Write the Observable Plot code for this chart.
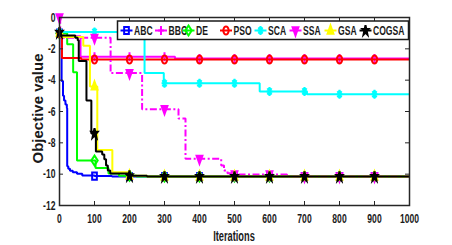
<!DOCTYPE html>
<html><head><meta charset="utf-8">
<script src="https://cdn.jsdelivr.net/npm/d3@7"></script>
<script src="https://cdn.jsdelivr.net/npm/@observablehq/plot@0.6"></script>
<style>
html,body{margin:0;padding:0;background:#fff;}
#chart{position:relative;width:452px;height:245px;}
</style></head><body><div id="chart"></div>
<script>
// ---------- data ----------
const seriesNames = ["ABC","BBO","DE","PSO","SCA","SSA","GSA","COGSA"];
const seriesColors = ["#0000ff","#ff00ff","#00ff00","#ff0000","#00ffff","#ff00ff","#ffff00","#000000"];
const seriesSymbols = ["square","plus","diamond","circle","asterisk","triangleDown","triangleUp","star"];
const seriesDash = [null,null,null,null,null,"7,2.5,2,2.5",null,null];
const iterationTicks = [0,100,200,300,400,500,600,700,800,900,1000];
const valueTicks = [-12,-10,-8,-6,-4,-2,0];
const markerIterations = [0,100,200,300,400,500,600,700,800,900];

// step change points: [iteration, value from this iteration on]
const abcCurve = [[0,-1.0],[5,-1.2],[6,-4.05],[10,-5.0],[13,-5.3],[17,-5.55],[21,-5.8],[22,-9.5],[25,-9.65],[30,-9.78],[38,-9.88],[50,-9.98],[65,-10.08],[100,-10.12],[150,-10.15],[1000,-10.15]];
const bboCurve = [[0,-1.0],[3,-1.2],[60,-2.5],[330,-2.62],[1000,-2.62]];
const deCurve = [[0,-1.0],[22,-1.7],[39,-3.5],[50,-9.13],[103,-9.6],[140,-9.95],[170,-10.1],[220,-10.15],[1000,-10.15]];
const psoCurve = [[0,-1.0],[7,-2.58],[62,-2.68],[1000,-2.68]];
const scaCurve = [[0,-0.92],[243,-3.55],[298,-4.2],[572,-4.72],[707,-4.9],[1000,-4.9]];
const ssaCurve = [[0,0],[2,-1.3],[146,-3.55],[236,-5.85],[340,-6.45],[360,-9.02],[462,-9.45],[470,-9.77],[480,-9.94],[500,-10.02],[650,-10.15],[1000,-10.15]];
const gsaCurve = [[0,-1.0],[8,-1.25],[68,-1.8],[87,-4.4],[108,-8.45],[151,-9.87],[200,-10.1],[250,-10.15],[1000,-10.15]];
const cogsaCurve = [[0,-0.95],[3,-1.15],[45,-1.3],[52,-1.45],[55,-2.78],[77,-5.3],[91,-7.4],[104,-8.55],[122,-8.75],[128,-9.05],[133,-9.45],[138,-9.77],[145,-9.95],[200,-10.1],[250,-10.15],[1000,-10.15]];
const seriesCurves = [abcCurve,bboCurve,deCurve,psoCurve,scaCurve,ssaCurve,gsaCurve,cogsaCurve];

// ---------- helpers ----------
const SX = 0.65;   // horizontal squeeze of markers (as in the reference)
const TSX = 0.66;  // horizontal squeeze of text
function valueAt(points, it) { let v = points[0][1]; for (const [x,y] of points) if (x <= it) v = y; return v; }
function makeSymbol(kind) {
  return { draw(ctx, size) {
    const r = Math.sqrt(size / Math.PI);
    const poly = pts => { pts.forEach(([x,y],i) => i ? ctx.lineTo(x*SX*r, y*r) : ctx.moveTo(x*SX*r, y*r)); ctx.closePath(); };
    const seg = (a,b) => { ctx.moveTo(a[0]*SX*r, a[1]*r); ctx.lineTo(b[0]*SX*r, b[1]*r); };
    switch (kind) {
      case "square": poly([[-.8,-.8],[.8,-.8],[.8,.8],[-.8,.8]]); break;
      case "diamond": poly([[0,-1.1],[1.1,0],[0,1.1],[-1.1,0]]); break;
      case "circle": poly(d3.range(20).map(k => [0.9*Math.cos(k*Math.PI/10), 0.9*Math.sin(k*Math.PI/10)])); break;
      case "triangleUp": poly([[0,-1.1],[1,.7],[-1,.7]]); break;
      case "triangleDown": poly([[0,1.1],[1,-.7],[-1,-.7]]); break;
      case "star": poly(d3.range(10).map(k => { const a = -Math.PI/2 + k*Math.PI/5, rr = k%2 ? 0.45 : 1.15; return [rr*Math.cos(a), rr*Math.sin(a)]; })); break;
      case "asterisk": seg([0,-1],[0,1]); seg([-1,0],[1,0]); seg([-.7,-.7],[.7,.7]); seg([-.7,.7],[.7,-.7]); break;
      case "plus": seg([0,-1],[0,1]); seg([-1,0],[1,0]); break;
    }
  }};
}
function markerFill(kind, color) {
  if (kind === "star" || kind === "triangleUp" || kind === "triangleDown") return color;
  return "none";
}

// ---------- chart ----------
const marks = [];
seriesNames.forEach((name, i) => {
  const color = seriesColors[i], kind = seriesSymbols[i];
  marks.push(Plot.line(seriesCurves[i], {x: d => d[0], y: d => d[1], curve: "step-after",
    stroke: color, strokeWidth: 2, strokeDasharray: seriesDash[i] || undefined, strokeLinejoin: "miter", strokeLinecap: "butt"}));
  marks.push(Plot.dot(markerIterations.map(it => ({it, v: valueAt(seriesCurves[i], it)})),
    {x: "it", y: "v", symbol: makeSymbol(kind), r: 4.5, stroke: color, strokeWidth: 2, fill: markerFill(kind, color)}));
});
marks.push(Plot.tickX(iterationTicks, {x: d => d, insetTop: 184, stroke: "#262626"}));
marks.push(Plot.tickX(iterationTicks, {x: d => d, insetBottom: 184, stroke: "#262626"}));
marks.push(Plot.tickY(valueTicks, {y: d => d, insetRight: 346, stroke: "#262626"}));
marks.push(Plot.tickY(valueTicks, {y: d => d, insetLeft: 346, stroke: "#262626"}));
marks.push(Plot.axisX(iterationTicks, {tickSize: 0, tickPadding: 8, label: null, tickFormat: d => String(d)}));
marks.push(Plot.axisY(valueTicks, {tickSize: 0, tickPadding: 4, label: null, tickFormat: d => String(d)}));
marks.push(Plot.frame({stroke: "#262626", strokeWidth: 1.5}));

const chart = Plot.plot({
  width: 452, height: 245,
  marginLeft: 59, marginRight: 43, marginTop: 17, marginBottom: 40,
  x: {domain: [0, 1000]},
  y: {domain: [-12, 0]},
  style: {fontFamily: "'Liberation Sans', Arial, sans-serif", fontWeight: "bold", fontSize: "13px", color: "#1a1a1a", background: "white"},
  marks
});
document.getElementById("chart").appendChild(chart);

// squeeze tick-label text horizontally
chart.querySelectorAll('g[aria-label$="tick label"] text').forEach(t => {
  t.setAttribute("transform", (t.getAttribute("transform") || "") + ` scale(${TSX},1)`);
});

const svg = d3.select(chart);
// axis titles
svg.append("text").attr("transform", `translate(234,241) scale(${TSX},1)`)
  .attr("text-anchor", "middle").attr("font-size", 14).attr("font-weight", "bold").attr("fill", "#1a1a1a").text("Iterations");
svg.append("text").attr("transform", "translate(43,108.5) rotate(-90)")
  .attr("text-anchor", "middle").attr("font-size", 15).attr("font-weight", "bold").attr("fill", "#1a1a1a").text("Objective value");

// legend
const legendTextX = [134,168.5,196,233.5,268,303,338,373];
const lg = svg.append("g").attr("aria-label", "legend");
lg.append("rect").attr("x", 117.5).attr("y", 21).attr("width", 291).attr("height", 18.5)
  .attr("fill", "white").attr("stroke", "#1a1a1a").attr("stroke-width", 1.5);
seriesNames.forEach((name, i) => {
  const tx = legendTextX[i], lx0 = tx - 13.5, lx1 = tx - 1.5, cy = 30.5, cx = (lx0 + lx1) / 2;
  lg.append("line").attr("x1", lx0).attr("x2", lx1).attr("y1", cy).attr("y2", cy)
    .attr("stroke", seriesColors[i]).attr("stroke-width", 2);
  const p = d3.path(); makeSymbol(seriesSymbols[i]).draw(p, Math.PI * 4.5 * 4.5);
  lg.append("path").attr("d", p.toString()).attr("transform", `translate(${cx},${cy})`)
    .attr("stroke", seriesColors[i]).attr("stroke-width", 2).attr("fill", markerFill(seriesSymbols[i], seriesColors[i]));
  lg.append("text").attr("transform", `translate(${tx},${cy}) scale(${TSX},1)`).attr("dy", "0.36em")
    .attr("text-anchor", "start")
    .attr("font-size", 13).attr("font-weight", "bold").attr("fill", "#1a1a1a").text(name);
});
</script></body></html>
